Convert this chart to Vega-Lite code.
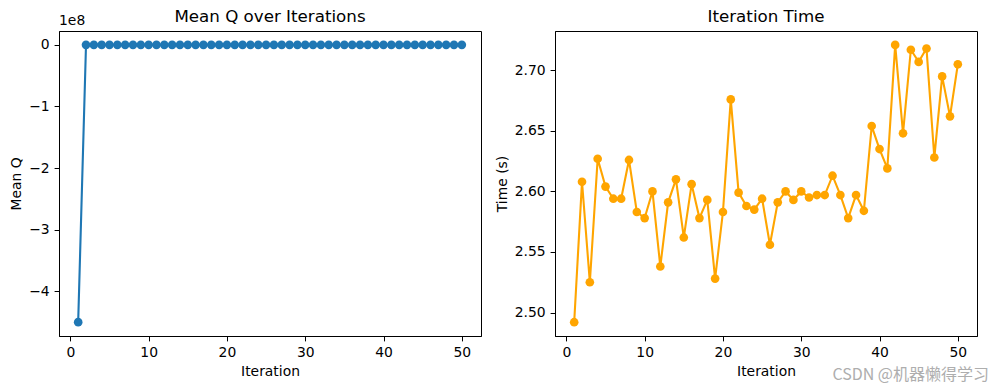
{
  "$schema": "https://vega.github.io/schema/vega-lite/v6.json",
  "padding": {"left": 9, "top": 8, "right": 0, "bottom": 0},
  "spacing": 12,
  "config": {
    "font": "DejaVu Sans",
    "view": {"stroke": "black", "strokeWidth": 1},
    "axis": {
      "grid": false,
      "labelFont": "DejaVu Sans", "labelFontSize": 13.9, "labelColor": "black",
      "titleFont": "DejaVu Sans", "titleFontSize": 13.9, "titleFontWeight": "normal", "titleColor": "black",
      "tickColor": "black", "tickSize": 4.9, "domainColor": "black", "labelPadding": 4.9, "titlePadding": 5
    },
    "title": {"font": "DejaVu Sans", "fontSize": 16.7, "fontWeight": "normal", "color": "black", "offset": 5}
  },
  "datasets": {
    "q": [
      {"Iteration": 1, "MeanQ": -450000000},
      {"Iteration": 2, "MeanQ": 0}, {"Iteration": 3, "MeanQ": 0}, {"Iteration": 4, "MeanQ": 0}, {"Iteration": 5, "MeanQ": 0},
      {"Iteration": 6, "MeanQ": 0}, {"Iteration": 7, "MeanQ": 0}, {"Iteration": 8, "MeanQ": 0}, {"Iteration": 9, "MeanQ": 0},
      {"Iteration": 10, "MeanQ": 0}, {"Iteration": 11, "MeanQ": 0}, {"Iteration": 12, "MeanQ": 0}, {"Iteration": 13, "MeanQ": 0},
      {"Iteration": 14, "MeanQ": 0}, {"Iteration": 15, "MeanQ": 0}, {"Iteration": 16, "MeanQ": 0}, {"Iteration": 17, "MeanQ": 0},
      {"Iteration": 18, "MeanQ": 0}, {"Iteration": 19, "MeanQ": 0}, {"Iteration": 20, "MeanQ": 0}, {"Iteration": 21, "MeanQ": 0},
      {"Iteration": 22, "MeanQ": 0}, {"Iteration": 23, "MeanQ": 0}, {"Iteration": 24, "MeanQ": 0}, {"Iteration": 25, "MeanQ": 0},
      {"Iteration": 26, "MeanQ": 0}, {"Iteration": 27, "MeanQ": 0}, {"Iteration": 28, "MeanQ": 0}, {"Iteration": 29, "MeanQ": 0},
      {"Iteration": 30, "MeanQ": 0}, {"Iteration": 31, "MeanQ": 0}, {"Iteration": 32, "MeanQ": 0}, {"Iteration": 33, "MeanQ": 0},
      {"Iteration": 34, "MeanQ": 0}, {"Iteration": 35, "MeanQ": 0}, {"Iteration": 36, "MeanQ": 0}, {"Iteration": 37, "MeanQ": 0},
      {"Iteration": 38, "MeanQ": 0}, {"Iteration": 39, "MeanQ": 0}, {"Iteration": 40, "MeanQ": 0}, {"Iteration": 41, "MeanQ": 0},
      {"Iteration": 42, "MeanQ": 0}, {"Iteration": 43, "MeanQ": 0}, {"Iteration": 44, "MeanQ": 0}, {"Iteration": 45, "MeanQ": 0},
      {"Iteration": 46, "MeanQ": 0}, {"Iteration": 47, "MeanQ": 0}, {"Iteration": 48, "MeanQ": 0}, {"Iteration": 49, "MeanQ": 0},
      {"Iteration": 50, "MeanQ": 0}
    ],
    "t": [
      {"Iteration": 1, "Time": 2.492}, {"Iteration": 2, "Time": 2.608}, {"Iteration": 3, "Time": 2.525}, {"Iteration": 4, "Time": 2.627},
      {"Iteration": 5, "Time": 2.604}, {"Iteration": 6, "Time": 2.594}, {"Iteration": 7, "Time": 2.594}, {"Iteration": 8, "Time": 2.626},
      {"Iteration": 9, "Time": 2.583}, {"Iteration": 10, "Time": 2.578}, {"Iteration": 11, "Time": 2.600}, {"Iteration": 12, "Time": 2.538},
      {"Iteration": 13, "Time": 2.591}, {"Iteration": 14, "Time": 2.610}, {"Iteration": 15, "Time": 2.562}, {"Iteration": 16, "Time": 2.606},
      {"Iteration": 17, "Time": 2.578}, {"Iteration": 18, "Time": 2.593}, {"Iteration": 19, "Time": 2.528}, {"Iteration": 20, "Time": 2.583},
      {"Iteration": 21, "Time": 2.676}, {"Iteration": 22, "Time": 2.599}, {"Iteration": 23, "Time": 2.588}, {"Iteration": 24, "Time": 2.585},
      {"Iteration": 25, "Time": 2.594}, {"Iteration": 26, "Time": 2.556}, {"Iteration": 27, "Time": 2.591}, {"Iteration": 28, "Time": 2.600},
      {"Iteration": 29, "Time": 2.593}, {"Iteration": 30, "Time": 2.600}, {"Iteration": 31, "Time": 2.595}, {"Iteration": 32, "Time": 2.597},
      {"Iteration": 33, "Time": 2.597}, {"Iteration": 34, "Time": 2.613}, {"Iteration": 35, "Time": 2.597}, {"Iteration": 36, "Time": 2.578},
      {"Iteration": 37, "Time": 2.597}, {"Iteration": 38, "Time": 2.584}, {"Iteration": 39, "Time": 2.654}, {"Iteration": 40, "Time": 2.635},
      {"Iteration": 41, "Time": 2.619}, {"Iteration": 42, "Time": 2.721}, {"Iteration": 43, "Time": 2.648}, {"Iteration": 44, "Time": 2.717},
      {"Iteration": 45, "Time": 2.707}, {"Iteration": 46, "Time": 2.718}, {"Iteration": 47, "Time": 2.628}, {"Iteration": 48, "Time": 2.695},
      {"Iteration": 49, "Time": 2.662}, {"Iteration": 50, "Time": 2.705}
    ]
  },
  "hconcat": [
    {
      "width": 422, "height": 305,
      "title": {"text": "Mean Q over Iterations", "offset": -12},
      "layer": [
        {
          "data": {"name": "q"},
          "mark": {"type": "line", "color": "#1f77b4", "strokeWidth": 2.1, "point": {"filled": true, "size": 75, "color": "#1f77b4", "opacity": 1}},
          "encoding": {
            "x": {"field": "Iteration", "type": "quantitative", "scale": {"domain": [-1.45, 52.45], "nice": false, "zero": false},
                  "axis": {"values": [0, 10, 20, 30, 40, 50], "title": "Iteration"}},
            "y": {"field": "MeanQ", "type": "quantitative", "scale": {"domain": [-472500000, 22500000], "nice": false, "zero": false},
                  "axis": {"values": [0, -100000000, -200000000, -300000000, -400000000], "title": "Mean Q",
                           "labelExpr": "replace(format(datum.value / 1e8, 'd'), '-', '−')"}}
          }
        },
        {
          "data": {"values": [{"label": "1e8"}]},
          "mark": {"type": "text", "align": "left", "baseline": "bottom", "dy": -3, "fontSize": 13.9, "font": "DejaVu Sans", "color": "black", "clip": false},
          "encoding": {
            "x": {"datum": -1.45},
            "y": {"datum": 22500000},
            "text": {"field": "label"}
          }
        }
      ]
    },
    {
      "width": 422, "height": 305,
      "title": "Iteration Time",
      "layer": [
        {
          "data": {"name": "t"},
          "mark": {"type": "line", "color": "#ffa500", "strokeWidth": 2.1, "point": {"filled": true, "size": 75, "color": "#ffa500", "opacity": 1}},
          "encoding": {
            "x": {"field": "Iteration", "type": "quantitative", "scale": {"domain": [-1.45, 52.45], "nice": false, "zero": false},
                  "axis": {"values": [0, 10, 20, 30, 40, 50], "title": "Iteration"}},
            "y": {"field": "Time", "type": "quantitative", "scale": {"domain": [2.4806, 2.7325], "nice": false, "zero": false},
                  "axis": {"values": [2.5, 2.55, 2.6, 2.65, 2.7], "format": ".2f", "title": "Time (s)"}}
          }
        },
        {
          "data": {"values": [{"label": "CSDN @机器懒得学习"}]},
          "mark": {"type": "text", "align": "right", "baseline": "middle", "dx": 12, "dy": 39, "fontSize": 16, "font": "Noto Sans CJK SC", "color": "#a0a0a0", "opacity": 0.85, "clip": false},
          "encoding": {
            "x": {"datum": 52.45},
            "y": {"datum": 2.4806},
            "text": {"field": "label"}
          }
        }
      ]
    }
  ]
}
